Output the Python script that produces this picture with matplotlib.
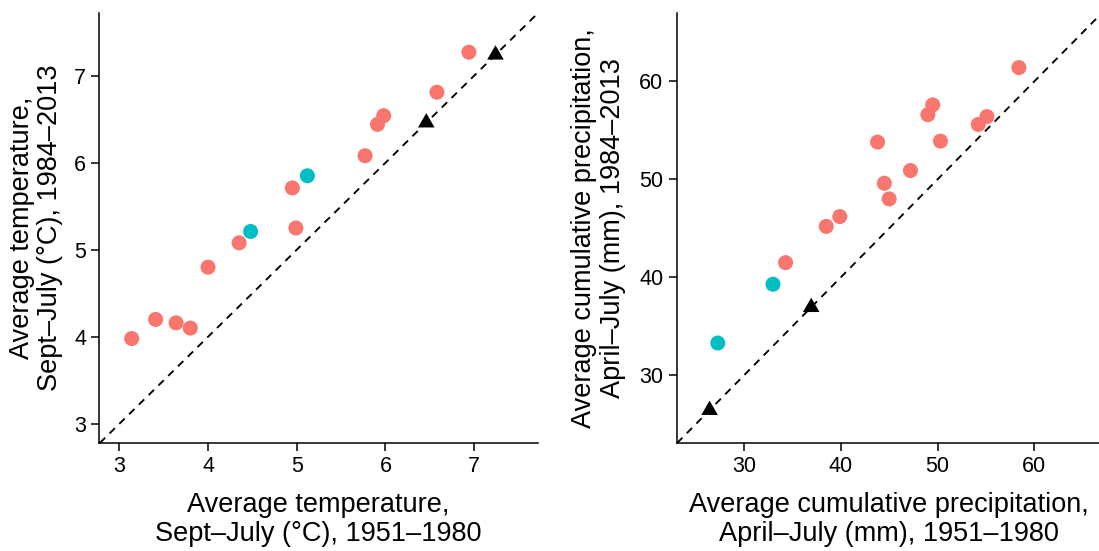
import matplotlib
matplotlib.use("Agg")
import matplotlib.pyplot as plt

# temperature panel: x = 1951-1980 mean, y = 1984-2013 mean (deg C)
TEMP_RED_X = [3.14, 3.41, 3.64, 3.80, 4.00, 4.35, 4.95, 4.99, 5.77, 5.91, 5.98, 6.58, 6.94]
TEMP_RED_Y = [3.98, 4.20, 4.16, 4.10, 4.80, 5.08, 5.71, 5.25, 6.08, 6.44, 6.54, 6.81, 7.27]
TEMP_CYAN_X = [4.48, 5.12]
TEMP_CYAN_Y = [5.21, 5.85]
TEMP_TRI_X = [6.46, 7.24]
TEMP_TRI_Y = [6.46, 7.24]

# precipitation panel (mm)
PREC_RED_X = [34.3, 38.5, 39.9, 43.8, 44.5, 45.0, 47.2, 49.0, 49.5, 50.3, 54.2, 55.1, 58.4]
PREC_RED_Y = [41.5, 45.2, 46.2, 53.8, 49.6, 48.0, 50.9, 56.6, 57.6, 53.9, 55.6, 56.4, 61.4]
PREC_CYAN_X = [27.3, 33.0]
PREC_CYAN_Y = [33.3, 39.3]
PREC_TRI_X = [26.45, 36.95]
PREC_TRI_Y = [26.45, 36.95]

RED = "#F8766D"
CYAN = "#00BFC4"
TRIANGLE = [(-1.0, -0.577), (1.0, -0.577), (0.0, 1.155)]

plt.rcParams["font.family"] = ["Liberation Sans", "DejaVu Sans"]

fig = plt.figure(figsize=(10.99, 5.51), dpi=100)
ax1 = fig.add_axes([0.0904, 0.196, 0.3992, 0.7804])
ax2 = fig.add_axes([0.6157, 0.196, 0.3863, 0.7804])


def draw(ax, rx, ry, cx, cy, tx, ty):
    ax.axline((0, 0), (1, 1), color="black", lw=1.35, linestyle=(0, (4, 3.3)), zorder=1)
    ax.scatter(rx, ry, s=117, color=RED, edgecolors="none", zorder=3)
    ax.scatter(cx, cy, s=117, color=CYAN, edgecolors="none", zorder=3)
    ax.scatter(tx, ty, s=190, color="black", marker=TRIANGLE, edgecolors="none", zorder=3)
    for side in ("top", "right"):
        ax.spines[side].set_visible(False)
    for side in ("left", "bottom"):
        ax.spines[side].set_linewidth(1.1)
    ax.tick_params(length=5.5, width=1.1, pad=4, labelsize=15.5, colors="black")


draw(ax1, TEMP_RED_X, TEMP_RED_Y, TEMP_CYAN_X, TEMP_CYAN_Y, TEMP_TRI_X, TEMP_TRI_Y)
ax1.set_xlim(2.775, 7.72)
ax1.set_ylim(2.78, 7.72)
ax1.set_xticks([3, 4, 5, 6, 7])
ax1.set_yticks([3, 4, 5, 6, 7])
ax1.set_xlabel("Average temperature,\nSept\u2013July (\u00b0C), 1951\u20131980",
               fontsize=19.5, va="top", linespacing=1.15)
ax1.set_ylabel("Average temperature,\nSept\u2013July (\u00b0C), 1984\u20132013",
               fontsize=19.5, va="center", linespacing=1.12)
ax1.xaxis.set_label_coords(0.5, -0.115)
ax1.yaxis.set_label_coords(-0.144, 0.5)

draw(ax2, PREC_RED_X, PREC_RED_Y, PREC_CYAN_X, PREC_CYAN_Y, PREC_TRI_X, PREC_TRI_Y)
ax2.set_xlim(23.05, 66.9)
ax2.set_ylim(23.1, 66.97)
ax2.set_xticks([30, 40, 50, 60])
ax2.set_yticks([30, 40, 50, 60])
ax2.set_xlabel("Average cumulative precipitation,\nApril\u2013July (mm), 1951\u20131980",
               fontsize=19.5, va="top", linespacing=1.15)
ax2.set_ylabel("Average cumulative precipitation,\nApril\u2013July (mm), 1984\u20132013",
               fontsize=19.5, va="center", linespacing=1.12)
ax2.xaxis.set_label_coords(0.5, -0.115)
ax2.yaxis.set_label_coords(-0.184, 0.5)

fig.savefig("out.png", dpi=100)
